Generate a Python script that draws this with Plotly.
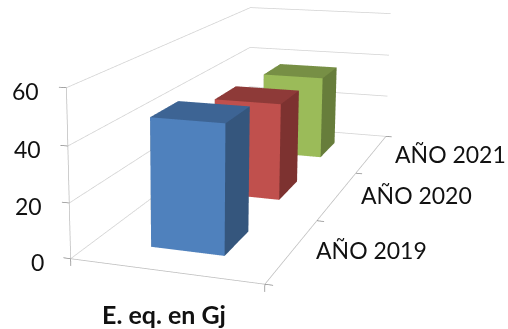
import plotly.graph_objects as go

# Chart data
years = ["AÑO 2019", "AÑO 2020", "AÑO 2021"]
energy_gj = [47.0, 39.1, 36.5]
value_ticks = [0, 20, 40, 60]
axis_title = "E. eq. en Gj"

# Bar styling: front, top and side face of each column
face_colors = [
    ("#4F81BD", "#3D6494", "#35567D"),
    ("#C0504D", "#8E3A38", "#7D3230"),
    ("#9BBB59", "#778F45", "#677D3B"),
]
BAR_X = (0.31, 0.704)
BAR_HALF_DEPTH = 0.2
WALL = "#D2D2D2"
AXIS = "#BDBDBD"
TICK = "#8C8C8C"
FONT = "Lato"
TEXT = "#111111"


def column(i, height, colors):
    """Box for one category, with one flat colour per visible face."""
    x0, x1 = BAR_X
    y0, y1 = i + 0.5 - BAR_HALF_DEPTH, i + 0.5 + BAR_HALF_DEPTH
    xs = [x0, x1, x1, x0, x0, x1, x1, x0]
    ys = [y0, y0, y1, y1, y0, y0, y1, y1]
    zs = [0, 0, 0, 0, height, height, height, height]
    front, top, side = colors
    tris = [
        (0, 1, 5, front), (0, 5, 4, front),
        (4, 5, 6, top), (4, 6, 7, top),
        (1, 2, 6, side), (1, 6, 5, side),
        (0, 2, 1, side), (0, 3, 2, side),
        (3, 7, 6, side), (3, 6, 2, side),
        (0, 4, 7, side), (0, 7, 3, side),
    ]
    return go.Mesh3d(
        x=xs, y=ys, z=zs,
        i=[t[0] for t in tris], j=[t[1] for t in tris], k=[t[2] for t in tris],
        facecolor=[t[3] for t in tris],
        flatshading=True,
        lighting=dict(ambient=1, diffuse=0, specular=0, fresnel=0, roughness=1),
        hoverinfo="skip", showscale=False,
    )


def segments(points, color, width):
    xs, ys, zs = [], [], []
    for run in points:
        for p in run:
            xs.append(p[0]); ys.append(p[1]); zs.append(p[2])
        xs.append(None); ys.append(None); zs.append(None)
    return go.Scatter3d(x=xs, y=ys, z=zs, mode="lines",
                        line=dict(color=color, width=width),
                        hoverinfo="skip", showlegend=False)


n = len(years)
zmax = value_ticks[-1]
fig = go.Figure()

# Wall gridlines
fig.add_trace(segments([[(0, 0, v), (0, n, v), (1, n, v)] for v in value_ticks], WALL, 1.5))
# Axis lines
fig.add_trace(segments([[(0, 0, 0), (0, 0, zmax)],
                        [(0, 0, 0), (1, 0, 0), (1, n, 0)]], AXIS, 1.5))
# Tick marks
ticks = [[(0, 0, v), (-0.04, 0, v)] for v in value_ticks]
ticks += [[(1, y, 0), (1.04, y, 0)] for y in range(n + 1)]
ticks += [[(x, 0, 0), (x, 0, -2.6)] for x in (0, 1)]
fig.add_trace(segments(ticks, TICK, 1.5))

for i, (h, cols) in enumerate(zip(energy_gj, face_colors)):
    fig.add_trace(column(i, h, cols))

annotations = [
    dict(x=0, y=0, z=v, text=str(v), showarrow=False, xanchor="right", xshift=-25, yshift=-3,
         font=dict(family=FONT, size=23, color=TEXT))
    for v in value_ticks
]
annotations += [
    dict(x=1, y=i + 0.5, z=0, text=label, showarrow=False, xanchor="left", xshift=21.5,
         font=dict(family=FONT, size=23, color=TEXT))
    for i, label in enumerate(years)
]
annotations.append(dict(x=0.5, y=0, z=0, text=f"<b>{axis_title}</b>", showarrow=False,
                        xanchor="center", xshift=-1, yshift=-43,
                        font=dict(family=FONT, size=25, color=TEXT)))


def hidden_axis(lo, hi):
    return dict(visible=False, range=[lo, hi], autorange=False)


fig.update_layout(
    width=1200, height=967,
    margin=dict(l=0, r=0, t=0, b=0),
    paper_bgcolor="white",
    showlegend=False,
    scene=dict(
        domain=dict(x=[0, 1], y=[0, 1]),
        xaxis=hidden_axis(-0.1, 1.1),
        yaxis=hidden_axis(-0.1, 3.2),
        zaxis=hidden_axis(-6, 66),
        aspectmode="manual",
        aspectratio=dict(x=0.7412, y=2.0686, z=0.6426),
        camera=dict(
            eye=dict(x=1.1772, y=-4.0343, z=0.957),
            center=dict(x=0.8158, y=-3.1292, z=0.7334),
            up=dict(x=-0.0749, y=0.2109, z=0.9746),
            projection=dict(type="perspective"),
        ),
        bgcolor="white",
        annotations=annotations,
    ),
)

# The long focal length needs a large scene, shifted so its centre falls upper-left of the page.
fig.write_html(
    "out.html",
    config=dict(displayModeBar=False),
    post_script=(
        "var g=document.getElementById('{plot_id}');"
        "g.style.position='absolute';g.style.left='-451px';g.style.top='-367px';"
        "document.body.style.overflow='hidden';document.documentElement.style.overflow='hidden';"
    ),
)
